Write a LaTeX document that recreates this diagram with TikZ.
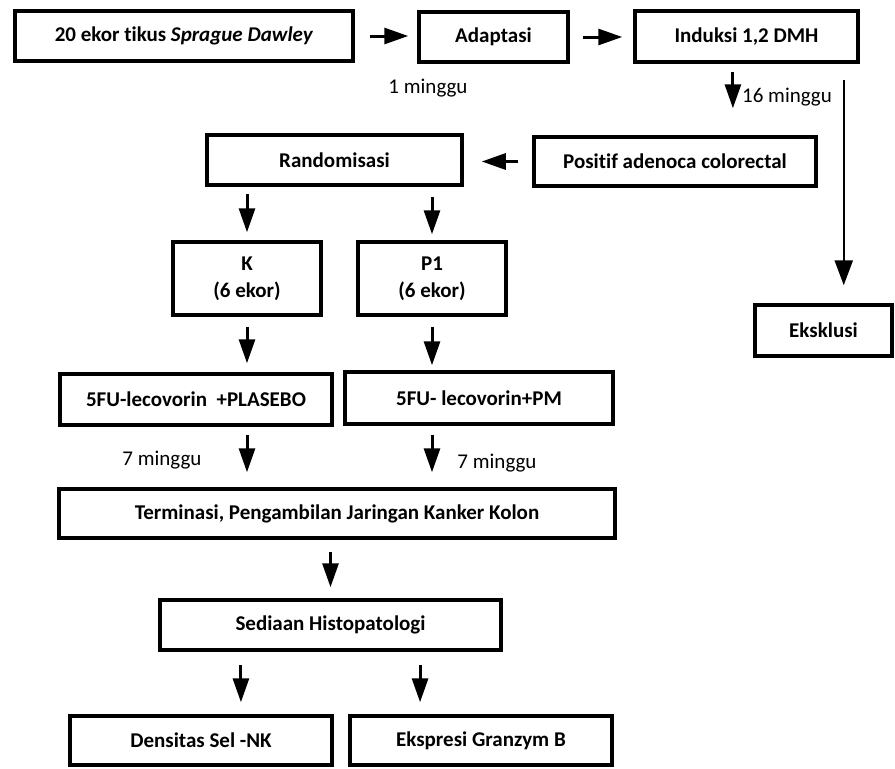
\documentclass[tikz,border=0pt]{standalone}
\usepackage{fontspec}
\setmainfont[Ligatures=NoCommon]{Carlito}
\usetikzlibrary{calc,arrows.meta}

\begin{document}
\begin{tikzpicture}[x=1pt, y=-1pt,
  kotak/.style={draw, line width=3.5pt, inner sep=0pt, align=center,
    font=\fontsize{21}{27}\selectfont\bfseries},
  panah/.style={line width=3pt, -{Triangle[length=24pt,width=16pt]}},
  ket/.style={inner sep=0pt, font=\fontsize{21}{25}\selectfont}]
  \useasboundingbox (0,0) rectangle (895,769);
  % 第一行
  \node[kotak, minimum width=338, minimum height=50] (tikus) at (184,36) {20 ekor tikus \textit{Sprague Dawley}};
  \node[kotak, minimum width=149, minimum height=50] (adaptasi) at (493.5,37) {Adaptasi};
  \node[kotak, minimum width=223, minimum height=51] (induksi) at (746.5,36.5) {Induksi 1,2 DMH};
  % 第二行
  \node[kotak, minimum width=255, minimum height=50] (random) at (334.5,160) {Randomisasi};
  \node[kotak, minimum width=282, minimum height=49] (positif) at (675,161.5) {Positif adenoca colorectal};
  \node[kotak, minimum width=137, minimum height=51] (eksklusi) at (823.5,330.5) {Eksklusi};
  % 两组
  \node[kotak, minimum width=148, minimum height=73] (k) at (247,278.5) {K\\(6 ekor)};
  \node[kotak, minimum width=148, minimum height=73] (p1) at (432,278.5) {P1\\(6 ekor)};
  \node[kotak, minimum width=272, minimum height=51] (plasebo) at (196,399.5) {5FU-lecovorin\ \ +PLASEBO};
  \node[kotak, minimum width=268, minimum height=52] (pm) at (479,398) {5FU- lecovorin+PM};
  % 下部
  \node[kotak, minimum width=556, minimum height=49] (terminasi) at (337,513.5) {Terminasi, Pengambilan Jaringan Kanker Kolon};
  \node[kotak, minimum width=341, minimum height=50] (sediaan) at (330.5,625) {Sediaan Histopatologi};
  \node[kotak, minimum width=262, minimum height=49] (densitas) at (201,740.5) {Densitas Sel -NK};
  \node[kotak, minimum width=262, minimum height=49] (ekspresi) at (481,740.5) {Ekspresi Granzym B};
  % 箭头
  \draw[panah, shorten <=15pt, shorten >=9pt] (tikus.east) -- (tikus.east -| adaptasi.west);
  \draw[panah, shorten <=13pt, shorten >=11pt] (adaptasi.east) -- (adaptasi.east -| induksi.west);
  \draw[panah, shorten <=8pt, shorten >=27pt] ($(induksi.south west)!0.44!(induksi.south east)$) coordinate (a16) -- (a16 |- positif.north);
  \draw[line width=2.5pt, -{Triangle[length=25pt,width=18pt]}, shorten <=16pt, shorten >=18pt]
    ($(induksi.south east)+(-16,0)$) coordinate (aeks) -- (aeks |- eksklusi.north);
  \draw[panah, shorten <=14pt, shorten >=18pt] (positif.west) -- (positif.west -| random.east);
  \draw[panah, shorten <=7pt, shorten >=8pt] (random.south -| k.north) -- (k.north);
  \draw[panah, shorten <=10pt, shorten >=6pt] (random.south -| p1.north) -- (p1.north);
  \draw[panah, shorten <=10pt, shorten >=9pt] (k.south) -- (k.south |- plasebo.north);
  \draw[panah, shorten <=10pt, shorten >=5pt] (p1.south) -- (p1.south |- pm.north);
  \draw[panah, shorten <=8pt, shorten >=15pt] (plasebo.south -| k.south) -- (terminasi.north -| k.south);
  \draw[panah, shorten <=9pt, shorten >=15pt] (pm.south -| p1.south) -- (terminasi.north -| p1.south);
  \draw[panah, shorten <=12pt, shorten >=11pt] (terminasi.south -| sediaan.north) -- (sediaan.north);
  \draw[panah, shorten <=13pt, shorten >=12pt] ($(sediaan.south west)!0.24!(sediaan.south east)$) coordinate (s1) -- (s1 |- densitas.north);
  \draw[panah, shorten <=13pt, shorten >=12pt] ($(sediaan.south west)!0.76!(sediaan.south east)$) coordinate (s2) -- (s2 |- ekspresi.north);
  % 时间
  \node[ket] (m1) at (428,88) {1 minggu};
  \node[ket, anchor=west] (m16) at (742,97) {16 minggu};
  \node[ket] (m7a) at (162,460) {7 minggu};
  \node[ket] (m7b) at (497,463) {7 minggu};
\end{tikzpicture}
\end{document}
